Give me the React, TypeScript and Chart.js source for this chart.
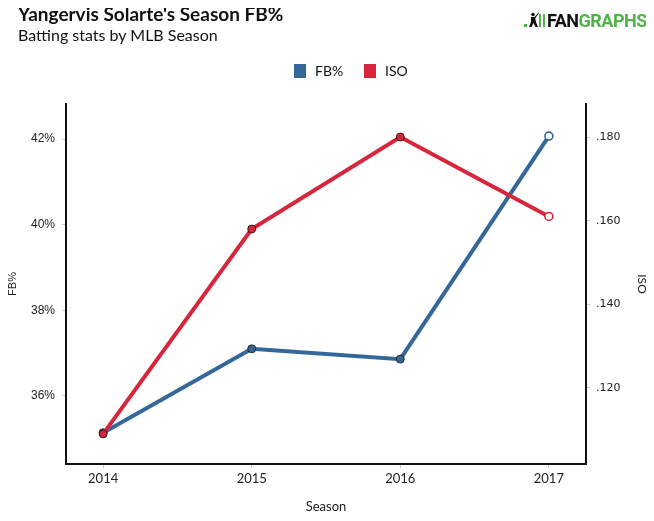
import React, { useEffect, useRef } from "react";
import { Chart, registerables } from "chart.js";

Chart.register(...registerables);

// ---- data ----
const seasons = [2014, 2015, 2016, 2017];
const fbPct = [35.14, 37.1, 36.86, 42.07];
const iso = [0.109, 0.158, 0.180, 0.161];
const fbTicks = [36, 38, 40, 42];
const isoTicks = [0.12, 0.14, 0.16, 0.18];
const seriesNames = ["FB%", "ISO"];
const xAxisTitle = "Season";
const yAxisTitle = "FB%";
const y1AxisTitle = "ISO";
const titleText = "Yangervis Solarte's Season FB%";
const subtitleText = "Batting stats by MLB Season";

const BLUE = "#35689a";
const RED = "#d7263c";
const GREEN = "#4fb24a";

function pointStyle(color: string, n: number) {
  return {
    pointBackgroundColor: Array.from({ length: n }, (_, i) => (i === n - 1 ? "#ffffff" : color)),
    pointBorderColor: Array.from({ length: n }, (_, i) => (i === n - 1 ? color : "rgba(30,20,20,0.85)")),
    pointBorderWidth: Array.from({ length: n }, (_, i) => (i === n - 1 ? 1.6 : 1)),
    pointRadius: 4,
    pointHoverRadius: 4,
  };
}

export default function App() {
  const canvasRef = useRef<HTMLCanvasElement | null>(null);

  useEffect(() => {
    if (!canvasRef.current) return;
    const chart = new Chart(canvasRef.current, {
      type: "line",
      data: {
        datasets: [
          {
            label: seriesNames[0],
            data: seasons.map((s, i) => ({ x: s, y: fbPct[i] })),
            yAxisID: "y",
            borderColor: BLUE,
            backgroundColor: BLUE,
            borderWidth: 4,
            tension: 0,
            order: 1,
            ...pointStyle(BLUE, seasons.length),
          },
          {
            label: seriesNames[1],
            data: seasons.map((s, i) => ({ x: s, y: iso[i] })),
            yAxisID: "y1",
            borderColor: RED,
            backgroundColor: RED,
            borderWidth: 4,
            tension: 0,
            order: 0,
            ...pointStyle(RED, seasons.length),
          },
        ],
      },
      options: {
        animation: false,
        responsive: true,
        maintainAspectRatio: false,
        layout: { padding: { top: 96, left: 0, right: 0, bottom: 0 } },
        plugins: {
          legend: { display: false },
          tooltip: { enabled: false },
          title: { display: false },
        },
        scales: {
          x: {
            type: "linear",
            min: 2013.75,
            max: 2017.25,
            afterBuildTicks: (ax: any) => {
              ax.ticks = seasons.map((v) => ({ value: v }));
            },
            afterFit: (s: any) => {
              s.height = 49;
            },
            ticks: {
              callback: (v: any) => String(v),
              font: { family: "Lato", size: 13 },
              color: "#222",
              padding: 3,
              maxRotation: 0,
            },
            grid: { drawOnChartArea: false, drawTicks: true, tickLength: 4, color: "#cccccc" },
            border: { display: true, color: "#111", width: 2 },
            title: {
              display: true,
              text: xAxisTitle,
              font: { family: "Lato", size: 13, lineHeight: 1 },
              color: "#222",
              padding: { top: 0, bottom: 0 },
            },
          },
          y: {
            type: "linear",
            position: "left",
            min: 34.41,
            max: 42.82,
            afterBuildTicks: (ax: any) => {
              ax.ticks = fbTicks.map((v) => ({ value: v }));
            },
            afterFit: (s: any) => {
              s.width = 58;
            },
            ticks: {
              callback: (v: any) => v + "%",
              font: { family: "Liberation Sans", size: 12 },
              color: "#222",
              padding: 7,
            },
            grid: { drawOnChartArea: false, drawTicks: true, tickLength: 4, color: "#cccccc" },
            border: { display: true, color: "#111", width: 2 },
            title: {
              display: true,
              text: yAxisTitle,
              font: { family: "Liberation Sans", size: 11, lineHeight: 0.95 },
              color: "#222",
              padding: { top: 0, bottom: 0 },
            },
          },
          y1: {
            type: "linear",
            position: "right",
            min: 0.1018,
            max: 0.1879,
            afterBuildTicks: (ax: any) => {
              ax.ticks = isoTicks.map((v) => ({ value: v }));
            },
            afterFit: (s: any) => {
              s.width = 60;
            },
            ticks: {
              callback: (v: any) => Number(v).toFixed(3).replace(/^0/, ""),
              font: { family: "DejaVu Sans", size: 11 },
              color: "#222",
              padding: 6,
            },
            grid: { drawOnChartArea: false, drawTicks: true, tickLength: 4, color: "#cccccc" },
            border: { display: true, color: "#111", width: 2 },
            title: {
              display: true,
              text: y1AxisTitle,
              font: { family: "Lato", size: 12, lineHeight: 0.75 },
              color: "#222",
              padding: { top: 0, bottom: 0 },
            },
          },
        },
      } as any,
    });
    return () => chart.destroy();
  }, []);

  const legendItems = [
    { name: seriesNames[0], color: BLUE, boxLeft: 286, textLeft: 307 },
    { name: seriesNames[1], color: RED, boxLeft: 356, textLeft: 377 },
  ];

  return (
    <div style={{ position: "relative", width: 638, height: 505 }}>
      <div style={{ position: "absolute", left: 0, top: 0, width: 638, height: 505 }}>
        <canvas ref={canvasRef} />
      </div>
      <div
        style={{
          position: "absolute",
          left: 10,
          top: -4,
          fontFamily: "Lato",
          fontWeight: 700,
          fontSize: 19,
          lineHeight: 1,
          color: "#111",
          whiteSpace: "nowrap",
        }}
      >
        {titleText}
      </div>
      <div
        style={{
          position: "absolute",
          left: 10,
          top: 19,
          fontFamily: "Lato",
          fontSize: 16,
          lineHeight: 1,
          color: "#111",
          whiteSpace: "nowrap",
        }}
      >
        {subtitleText}
      </div>
      {/* logo */}
      <div style={{ position: "absolute", left: 516, top: 16, width: 3, height: 3, background: GREEN }} />
      <svg style={{ position: "absolute", left: 519, top: 4 }} width="12" height="16" viewBox="0 0 12 16">
        <circle cx="6" cy="2.5" r="1.8" fill="#111" />
        <path d="M4 5 L8 5 L9 10 L11 15 L8.5 15 L6.5 11 L4.5 15 L2 15 L4 10 Z" fill="#111" />
        <path d="M7 5.5 L11.5 0.5 L12 1 L8 6.5 Z" fill="#111" />
      </svg>
      <div style={{ position: "absolute", left: 531, top: 6, width: 2, height: 13, background: GREEN }} />
      <div style={{ position: "absolute", left: 535, top: 6, width: 2, height: 13, background: GREEN }} />
      <div
        style={{
          position: "absolute",
          left: 539,
          top: 4,
          fontFamily: "Roboto",
          fontWeight: 700,
          fontSize: 18,
          lineHeight: 1,
          letterSpacing: -0.5,
          whiteSpace: "nowrap",
        }}
      >
        <span style={{ color: "#111" }}>FAN</span>
        <span style={{ color: GREEN }}>GRAPHS</span>
      </div>
      {/* legend */}
      {legendItems.map((it) => (
        <React.Fragment key={it.name}>
          <div
            style={{
              position: "absolute",
              left: it.boxLeft,
              top: 56,
              width: 12,
              height: 14,
              background: it.color,
            }}
          />
          <div
            style={{
              position: "absolute",
              left: it.textLeft,
              top: 56,
              fontFamily: "Lato",
              fontSize: 14,
              lineHeight: "14px",
              color: "#111",
              whiteSpace: "nowrap",
            }}
          >
            {it.name}
          </div>
        </React.Fragment>
      ))}
    </div>
  );
}
